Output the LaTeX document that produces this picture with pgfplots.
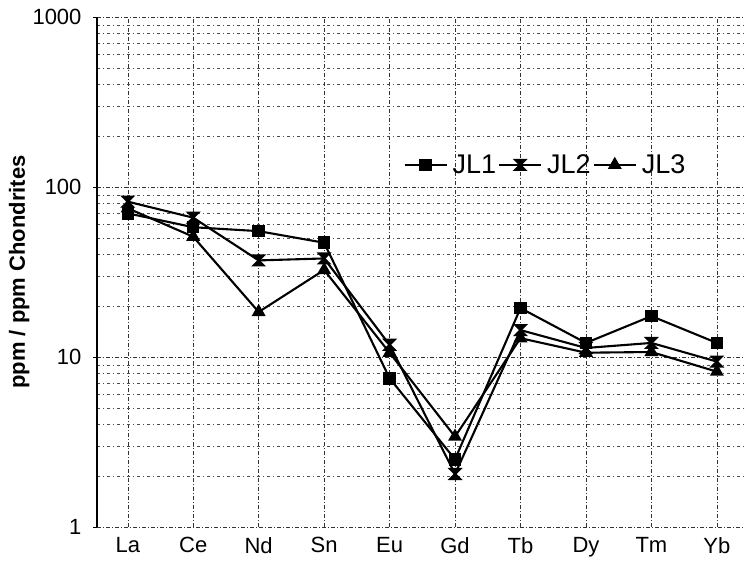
\documentclass[border=0pt]{standalone}
\usepackage{pgfplots}
\pgfplotsset{compat=1.18}
\usepackage{fontspec}
\setmainfont{Liberation Sans}
\pgfdeclareplotmark{hourglass}{%
  \pgfpathmoveto{\pgfqpoint{-\pgfplotmarksize}{\pgfplotmarksize}}%
  \pgfpathlineto{\pgfqpoint{\pgfplotmarksize}{\pgfplotmarksize}}%
  \pgfpathlineto{\pgfqpoint{-\pgfplotmarksize}{-\pgfplotmarksize}}%
  \pgfpathlineto{\pgfqpoint{\pgfplotmarksize}{-\pgfplotmarksize}}%
  \pgfpathclose
  \pgfusepathqfillstroke}
\pgfplotstableread{
x  JLa  JLb  JLc
0  70   82   75
1  58   66   51
2  55   37   18.4
3  47   38   32.5
4  7.5  11.8 10.6
5  2.5  2.05 3.4
6  19.4 14.4 12.9
7  12.1 11.3 10.6
8  17.4 12.1 10.7
9  12.1 9.4  8.2
}\data
\begin{document}
\begin{tikzpicture}
\begin{axis}[
  name=ax,
  scale only axis,
  width=648pt, height=510pt,
  ymode=log, ymin=1, ymax=1000,
  xmin=-0.47, xmax=9.43,
  xtick={0,...,9},
  xticklabels={La,Ce,Nd,Sn,Eu,Gd,Tb,Dy,Tm,Yb},
  ytick={1,10,100,1000},
  yticklabels={1,10,100,1000},
  minor ytick={2,3,4,5,6,7,8,9,20,30,40,50,60,70,80,90,200,300,400,500,600,700,800,900},
  axis x line*=bottom, axis y line*=left,
  x axis line style={draw=none},
  y axis line style={black, line width=1.2pt},
  x tick style={draw=none},
  y tick style={black, line width=0.6pt},
  major tick length=4pt, minor tick length=0pt,
  tick align=outside,
  xmajorgrids, ymajorgrids, yminorgrids,
  grid style={black!80, line width=0.45pt, dash pattern=on 4pt off 2pt on 1pt off 2pt},
  minor grid style={black!70, line width=0.45pt, dash pattern=on 3pt off 3pt on 1pt off 3pt},
  ticklabel style={font=\fontsize{22}{26}\selectfont},
  /pgf/number format/assume math mode=true,
  yticklabel style={xshift=-8pt},
  xticklabel style={yshift=-3pt},
  ylabel={\bfseries ppm / ppm Chondrites},
  ylabel style={font=\fontsize{22}{26}\selectfont, at={(axis description cs:-0.12,0.5)}, anchor=center},
  legend columns=3,
  legend style={draw=none, fill=none, at={(axis description cs:0.468,0.71)}, anchor=west,
    font=\fontsize{27}{32}\selectfont,
    /tikz/every odd column/.append style={column sep=3pt},
    /tikz/every even column/.append style={column sep=0pt}},
  legend image code/.code={\draw[mark repeat=2,mark phase=2,#1] plot coordinates {(0pt,0pt) (21pt,0pt) (42pt,0pt)};},
  every axis plot/.append style={black, line width=2.1pt, mark options={solid, fill=black}},
]
\addplot[mark=square*, mark size=5.2pt] table[x=x, y=JLa] {\data};
\addlegendentry{JL1}
\addplot[mark=hourglass, mark size=5pt] table[x=x, y=JLb] {\data};
\addlegendentry{JL2}
\addplot[mark=triangle*, mark size=6pt] table[x=x, y=JLc] {\data};
\addlegendentry{JL3}
\end{axis}
\pgfresetboundingbox
\path[use as bounding box] ([xshift=-97pt,yshift=-33pt]ax.south west) rectangle ([yshift=17pt]ax.north east);
\end{tikzpicture}
\end{document}
